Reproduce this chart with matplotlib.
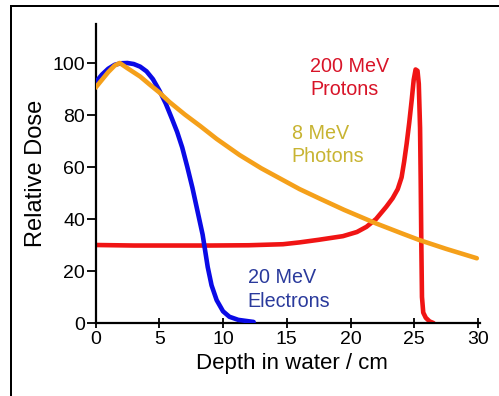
import matplotlib
matplotlib.use("Agg")
import matplotlib.pyplot as plt
from matplotlib.patches import Rectangle

plt.rcParams['font.family'] = ['Liberation Sans', 'DejaVu Sans']

# Data
electron_x = [0, 0.5, 1.0, 1.5, 2.0, 2.5, 3.0, 3.5, 4.0, 4.5, 5.0, 5.5, 6.0, 6.4, 6.8, 7.2, 7.6, 8.0, 8.4, 8.8, 9.1, 9.5, 10.0, 10.5, 11.2, 12.4]
electron_y = [92.5, 95.5, 97.8, 99.3, 99.9, 100.0, 99.6, 98.6, 96.8, 93.8, 89.5, 84.5, 78.5, 73.5, 67.5, 60.0, 52.0, 43.0, 34.0, 21.5, 14.5, 8.8, 4.5, 2.4, 1.2, 0.4]

photon_x = [0, 0.5, 1.0, 1.5, 1.9, 2.5, 3.5, 4.3, 5.0, 5.8, 7.0, 8.2, 9.5, 11.3, 13.0, 14.5, 16.0, 17.6, 19.5, 22.0, 24.0, 25.4, 27.5, 29.9]
photon_y = [90.5, 93.5, 96.5, 99.0, 100.0, 98.0, 94.8, 91.5, 88.7, 85.0, 80.2, 75.8, 70.8, 64.6, 59.5, 55.5, 51.5, 47.8, 43.5, 38.3, 34.5, 31.9, 28.5, 24.9]

proton_x = [0, 3, 6, 9, 12, 14.7, 16.0, 17.5, 19.4, 20.5, 21.25, 22.0, 22.8, 23.3, 23.7, 24.0, 24.2, 24.4, 24.6, 24.8, 24.95, 25.1, 25.25, 25.35, 25.45, 25.5, 25.55, 25.6, 25.7, 25.9, 26.2, 26.5]
proton_y = [30.0, 29.8, 29.8, 29.8, 29.9, 30.3, 31.0, 32.0, 33.4, 35.0, 37.0, 40.0, 44.7, 48.0, 51.5, 56.0, 62.0, 69.0, 77.0, 86.0, 93.5, 97.5, 97.0, 92.0, 75.0, 55.0, 30.0, 10.0, 4.0, 2.0, 0.6, 0.0]

x_ticks = [0, 5, 10, 15, 20, 25, 30]
y_ticks = [0, 20, 40, 60, 80, 100]

fig = plt.figure(figsize=(4.99, 3.96), dpi=100)

# Frame around the figure (left and top edges visible), drawn as a filled background box
fig.add_artist(Rectangle((10/499, -0.05), 1.0, 1.05 - 5/396, transform=fig.transFigure,
                         facecolor='black', edgecolor='none', zorder=-10))
fig.add_artist(Rectangle((12/499, -0.05), 1.0, 1.05 - 7/396, transform=fig.transFigure,
                         facecolor='white', edgecolor='none', zorder=-9))

ax = fig.add_axes([95.5/499, (396-323)/396, (480-95.5)/499, (323-24)/396])
ax.patch.set_alpha(0)

lw = 3.3
kw = dict(lw=lw, solid_capstyle='round', solid_joinstyle='round')
ax.plot(proton_x, proton_y, color='#f01414', zorder=2, **kw)
ax.plot(electron_x, electron_y, color='#0a0ae6', zorder=3, **kw)
ax.plot(photon_x, photon_y, color='#f5a01a', zorder=4, **kw)

ax.set_xlim(0, 30.15)
ax.set_ylim(0, 115)
for s in ['top', 'right']:
    ax.spines[s].set_visible(False)
for s in ['left', 'bottom']:
    ax.spines[s].set_linewidth(1.6)
    ax.spines[s].set_color('black')

ax.set_xticks(x_ticks)
ax.set_yticks(y_ticks)
ax.tick_params(axis='x', direction='inout', length=7, width=1.3, labelsize=14, pad=2)
ax.tick_params(axis='y', direction='out', length=6.5, width=1.3, labelsize=14, pad=1)

ax.set_xlabel('Depth in water / cm', fontsize=16, labelpad=4)
ax.set_ylabel('Relative Dose', fontsize=17, labelpad=4)
ax.xaxis.label.set_x(0.512)

tkw = dict(fontsize=14.2, ha='left', va='baseline', clip_on=False)
ax.text(16.82, 96.6, '200 MeV', color='#d81428', **tkw)
ax.text(16.82, 87.7, 'Protons', color='#d81428', **tkw)
ax.text(15.38, 70.6, '8 MeV', color='#c8b432', **tkw)
ax.text(15.38, 62.0, 'Photons', color='#c8b432', **tkw)
ax.text(11.93, 15.5, '20 MeV', color='#2a3a9c', **tkw)
ax.text(11.93, 6.3, 'Electrons', color='#2a3a9c', **tkw)

fig.savefig('out.png', dpi=100)
